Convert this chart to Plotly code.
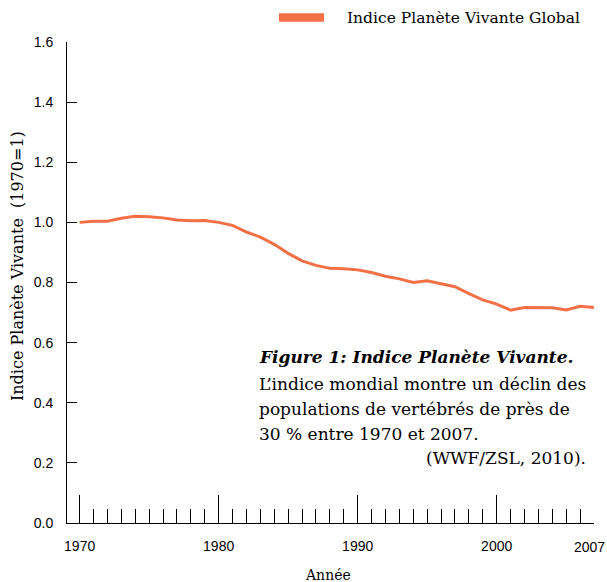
import plotly.graph_objects as go

years = list(range(1970, 2008))
lpi_global = [1.000, 1.004, 1.004, 1.014, 1.020, 1.019, 1.015, 1.008, 1.005, 1.006,
              1.000, 0.990, 0.968, 0.951, 0.927, 0.897, 0.872, 0.857, 0.847, 0.846,
              0.842, 0.833, 0.821, 0.812, 0.800, 0.806, 0.796, 0.786, 0.763, 0.742,
              0.728, 0.708, 0.717, 0.717, 0.716, 0.709, 0.721, 0.717]
series_name = "Indice Planète Vivante Global"
major_years = [1970, 1980, 1990, 2000]
y_ticks = [0.0, 0.2, 0.4, 0.6, 0.8, 1.0, 1.2, 1.4, 1.6]

ORANGE = "#F37047"
SERIF = "DejaVu Serif"
SANS = "Liberation Sans, Arial"

fig = go.Figure()
fig.add_trace(go.Scatter(x=years, y=lpi_global, mode="lines", name=series_name,
                         line=dict(color=ORANGE, width=3), showlegend=False))

W, H = 607, 582
ml, mr, mt, mb = 67, 13, 42, 59

def px(x):
    return (x - ml) / (W - ml - mr)

def py(y):
    return (H - mb - y) / (H - mt - mb)

fig.update_layout(
    width=W, height=H,
    margin=dict(l=ml, r=mr, t=mt, b=mb, pad=0),
    plot_bgcolor="white", paper_bgcolor="white",
    xaxis=dict(range=[1969.09, 2007], showgrid=False, zeroline=False,
               showline=True, linecolor="black", linewidth=1,
               tickmode="array", tickvals=major_years,
               ticktext=[str(v) for v in major_years],
               ticks="inside", ticklen=28, tickwidth=1, tickcolor="black",
               minor=dict(tickmode="array", tickvals=years, ticks="inside",
                          ticklen=14, tickwidth=1, tickcolor="black"),
               tickfont=dict(family=SANS, size=14, color="black"),
               ticklabelstandoff=10),
    yaxis=dict(range=[0, 1.6], showgrid=False, zeroline=False,
               showline=True, linecolor="black", linewidth=1,
               tickmode="array", tickvals=y_ticks, tickformat=".1f",
               ticks="inside", ticklen=10, tickwidth=1, tickcolor="black",
               tickfont=dict(family=SANS, size=14, color="black"),
               ticklabelstandoff=10),
)

# 2007 end label
fig.add_annotation(x=2007, xref="x", y=0, yref="paper", text="2007",
                   showarrow=False, xanchor="right", xshift=13,
                   yanchor="top", yshift=-14,
                   font=dict(family=SANS, size=14, color="black"))

# legend
fig.add_shape(type="rect", xref="paper", yref="paper",
              x0=px(279), x1=px(324), y0=py(21.7), y1=py(13.3),
              fillcolor=ORANGE, line=dict(width=0))
fig.add_annotation(x=px(345), y=py(17.5), xref="paper", yref="paper",
                   text=series_name, showarrow=False, xanchor="left", yanchor="middle",
                   font=dict(family=SERIF, size=15.5, color="black"))

# axis titles
fig.add_annotation(x=px(17), y=py(266), xref="paper", yref="paper",
                   text="Indice Planète Vivante\u00a0\u00a0(1970=1)", textangle=-90,
                   showarrow=False, xanchor="center", yanchor="middle",
                   font=dict(family=SERIF, size=16, color="black"))
fig.add_annotation(x=px(328), y=py(575), xref="paper", yref="paper",
                   text="Année", showarrow=False, xanchor="center", yanchor="middle",
                   font=dict(family=SERIF, size=14, color="black"))

# caption
caption = [
    ("<b><i>Figure 1: Indice Planète Vivante.</i></b>", 357),
    ("L\u2019indice mondial montre un déclin des", 384),
    ("populations de vertébrés de près de", 409),
    ("30 % entre 1970 et 2007.", 434),
]
for txt, yy in caption:
    fig.add_annotation(x=px(257), y=py(yy), xref="paper", yref="paper", text=txt,
                       showarrow=False, xanchor="left", yanchor="middle",
                       font=dict(family=SERIF, size=17, color="black"))
fig.add_annotation(x=px(588), y=py(458), xref="paper", yref="paper",
                   text="(WWF/ZSL, 2010).", showarrow=False,
                   xanchor="right", yanchor="middle",
                   font=dict(family=SERIF, size=17, color="black"))

fig.write_html("out.html", config={"displayModeBar": False},
               post_script="document.body.style.margin='0';document.body.style.overflow='hidden';")
